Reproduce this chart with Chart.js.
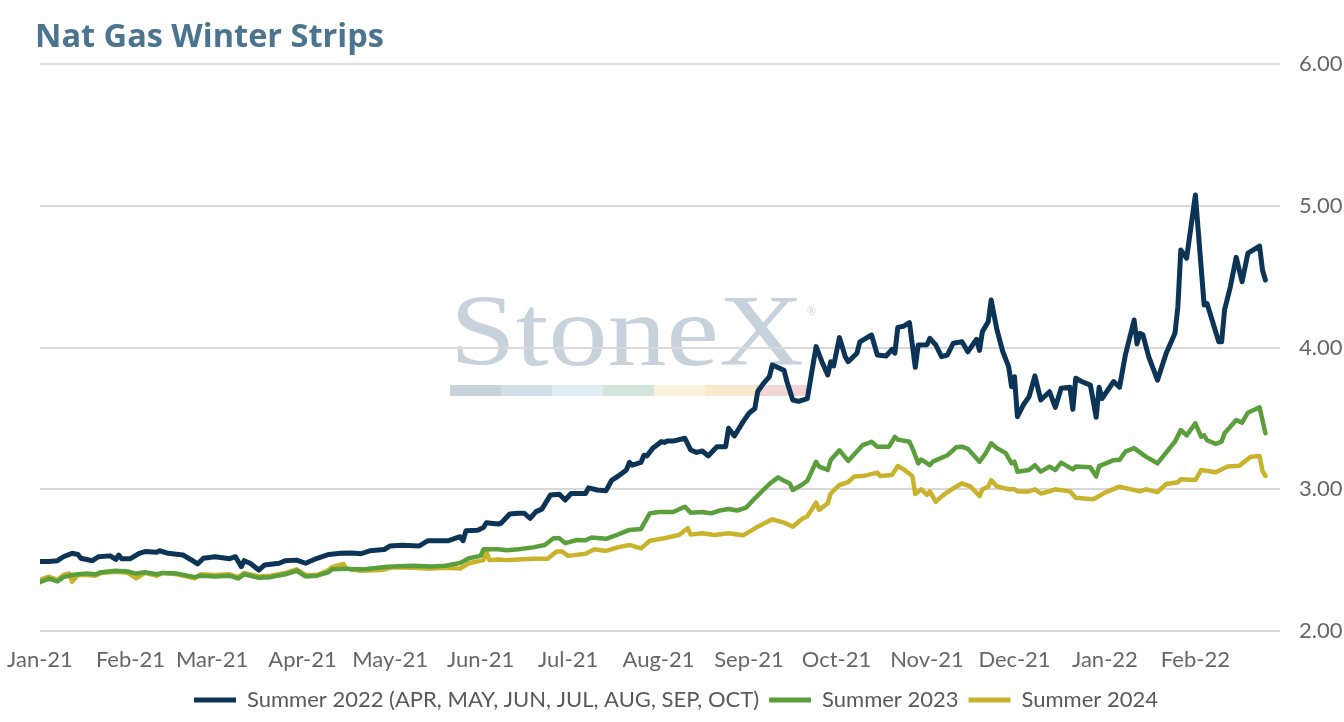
<!DOCTYPE html>
<html>
<head>
<meta charset="utf-8">
<script src="https://cdn.jsdelivr.net/npm/chart.js@4.4.1/dist/chart.umd.min.js"></script>
<style>
  html, body { margin: 0; padding: 0; background: #ffffff; }
  #wrap { width: 1344px; height: 722px; position: relative; }
</style>
</head>
<body>
<div id="wrap"><canvas id="c" width="1344" height="722"></canvas></div>
<script>
// ---- DATA (days since 2021-01-01, values in $/MMBtu) ----
const chartTitle = 'Nat Gas Winter Strips';
const seriesLabels = ['Summer 2022 (APR, MAY, JUN, JUL, AUG, SEP, OCT)', 'Summer 2023', 'Summer 2024'];
const monthTickDays = [0, 31, 59, 90, 120, 151, 181, 212, 243, 273, 304, 334, 365, 396];
const monthTickLabels = ['Jan-21','Feb-21','Mar-21','Apr-21','May-21','Jun-21','Jul-21','Aug-21','Sep-21','Oct-21','Nov-21','Dec-21','Jan-22','Feb-22'];
const yTickValues = [2, 3, 4, 5, 6];

const summer2022Days = [0,3,6,8,11,13,14,18,20,24,26,27,28,31,34,36,40,41,44,49,52,54,56,60,65,67,69,70,72,75,77,82,84,88,91,95,99,103,107,110,113,118,120,124,130,133,137,140,144,145,146,150,152,153,157,158,161,164,166,168,170,172,175,178,180,182,187,188,191,194,196,198,201,202,203,206,207,208,210,213,214,215,217,221,223,225,227,229,232,235,236,238,241,243,245,246,248,250,251,255,256,258,260,263,266,268,270,271,272,274,276,277,280,281,285,287,290,292,293,294,296,298,300,301,304,305,307,309,311,313,316,318,321,322,323,325,326,328,330,332,333,334,335,337,339,341,343,346,348,350,353,354,355,357,360,362,363,364,368,370,372,375,376,377,378,380,383,386,389,390,391,393,396,399,400,404,405,406,408,410,412,414,418,419,420];
const summer2022Values = [2.49,2.49,2.496,2.524,2.548,2.54,2.513,2.496,2.524,2.53,2.506,2.536,2.51,2.51,2.548,2.56,2.556,2.566,2.548,2.536,2.50,2.473,2.513,2.524,2.51,2.524,2.454,2.496,2.478,2.43,2.466,2.478,2.496,2.50,2.478,2.513,2.54,2.548,2.55,2.545,2.566,2.575,2.60,2.605,2.60,2.637,2.637,2.637,2.665,2.637,2.708,2.71,2.73,2.764,2.755,2.76,2.825,2.83,2.83,2.795,2.842,2.86,2.96,2.965,2.924,2.97,2.97,3.01,2.995,2.99,3.065,3.09,3.136,3.19,3.17,3.19,3.24,3.235,3.29,3.336,3.33,3.34,3.34,3.36,3.277,3.26,3.27,3.235,3.30,3.30,3.43,3.376,3.477,3.536,3.57,3.69,3.747,3.794,3.877,3.84,3.76,3.63,3.62,3.64,4.006,3.90,3.806,3.90,3.87,4.07,3.935,3.90,3.96,4.04,4.088,3.947,3.94,3.987,3.96,4.142,4.15,4.175,3.86,4.018,4.02,4.065,4.018,3.935,3.947,4.03,4.04,3.97,4.058,3.98,4.112,4.182,4.335,4.124,3.97,3.865,3.723,3.794,3.512,3.594,3.653,3.80,3.63,3.688,3.578,3.712,3.72,3.564,3.783,3.76,3.735,3.508,3.72,3.64,3.76,3.72,3.947,4.194,4.025,4.10,4.09,3.935,3.77,3.96,4.10,4.288,4.688,4.63,5.076,4.30,4.31,4.04,4.04,4.265,4.43,4.636,4.464,4.665,4.716,4.547,4.476];

const summer2023Days = [0,3,6,8,11,13,16,19,21,26,30,33,36,40,42,47,53,55,60,65,68,70,75,79,84,88,91,95,99,100,105,107,112,119,128,134,139,144,147,151,152,157,160,164,169,173,176,178,180,184,187,189,194,198,202,206,209,212,215,217,221,223,227,230,233,236,239,242,245,247,250,253,255,257,258,261,263,266,267,270,271,274,277,282,285,287,291,292,293,294,298,299,301,302,305,306,311,314,316,318,322,324,326,328,331,333,334,335,339,341,343,346,348,350,354,355,360,362,363,368,370,372,375,379,383,389,391,393,396,398,399,400,403,405,406,410,412,414,418,420];
const summer2023Values = [2.345,2.37,2.35,2.38,2.395,2.40,2.405,2.40,2.415,2.425,2.42,2.405,2.415,2.40,2.41,2.405,2.38,2.39,2.385,2.39,2.37,2.40,2.375,2.38,2.40,2.425,2.385,2.39,2.415,2.435,2.44,2.435,2.437,2.454,2.46,2.455,2.46,2.48,2.513,2.53,2.576,2.576,2.57,2.576,2.59,2.607,2.654,2.654,2.62,2.642,2.64,2.66,2.65,2.68,2.713,2.72,2.83,2.84,2.84,2.84,2.877,2.835,2.84,2.83,2.85,2.86,2.85,2.87,2.936,2.976,3.037,3.084,3.06,3.04,2.995,3.03,3.06,3.194,3.16,3.136,3.206,3.275,3.20,3.312,3.335,3.30,3.30,3.335,3.37,3.35,3.335,3.29,3.183,3.21,3.17,3.195,3.24,3.296,3.30,3.285,3.194,3.25,3.324,3.29,3.255,3.183,3.195,3.124,3.136,3.17,3.124,3.16,3.136,3.188,3.14,3.16,3.155,3.09,3.163,3.206,3.206,3.265,3.29,3.23,3.183,3.336,3.418,3.38,3.465,3.37,3.38,3.346,3.32,3.336,3.395,3.488,3.47,3.54,3.578,3.395];

const summer2024Days = [0,3,6,8,10,11,13,16,19,21,26,30,33,36,40,42,47,53,55,60,65,68,70,75,79,84,88,91,95,99,100,104,105,110,117,121,128,134,139,144,147,152,153,154,157,160,164,169,174,177,179,181,187,190,194,198,202,206,209,214,219,222,223,227,231,236,241,246,251,255,258,261,263,266,267,270,271,274,277,279,282,287,288,292,294,296,299,300,302,304,305,307,310,314,316,319,322,323,325,326,328,332,334,335,339,341,343,346,348,353,355,361,363,365,370,377,379,383,386,390,391,396,398,403,407,411,415,418,419,420];
const summer2024Values = [2.36,2.383,2.36,2.395,2.407,2.348,2.395,2.395,2.39,2.41,2.418,2.41,2.372,2.41,2.39,2.41,2.40,2.372,2.40,2.395,2.40,2.38,2.41,2.385,2.39,2.41,2.435,2.395,2.395,2.43,2.45,2.473,2.44,2.425,2.43,2.45,2.447,2.44,2.447,2.44,2.478,2.50,2.56,2.50,2.505,2.50,2.505,2.51,2.51,2.56,2.56,2.53,2.545,2.576,2.565,2.59,2.607,2.583,2.637,2.654,2.677,2.725,2.68,2.69,2.677,2.69,2.675,2.736,2.788,2.765,2.736,2.788,2.81,2.905,2.854,2.90,2.97,3.03,3.05,3.09,3.093,3.117,3.093,3.10,3.164,3.14,3.093,2.966,3.00,2.96,2.985,2.912,2.966,3.018,3.042,3.018,2.952,3.00,3.018,3.065,3.02,3.00,3.00,2.985,2.985,3.00,2.97,2.985,3.00,2.985,2.94,2.93,2.953,2.976,3.018,2.985,3.00,2.98,3.037,3.05,3.07,3.065,3.136,3.12,3.16,3.165,3.23,3.235,3.13,3.094];

const seriesColors = ['#0c3457', '#5b9e3c', '#c9b22c'];

// ---- helpers ----
function pairs(days, vals) { return days.map((d, i) => ({ x: d, y: vals[i] })); }

const FONT = 'Lato, "Open Sans", sans-serif';

const watermarkPlugin = {
  id: 'watermark',
  beforeDraw(chart) {
    const ctx = chart.ctx;
    ctx.save();
    ctx.font = '102px "Liberation Serif", "DejaVu Serif", serif';
    ctx.fillStyle = 'rgba(190, 202, 214, 0.85)';
    ctx.textBaseline = 'alphabetic';
    const txt = 'StoneX';
    const w = ctx.measureText(txt).width;
    const targetW = 354;
    ctx.translate(450, 365);
    ctx.scale(targetW / w, 1);
    ctx.fillText(txt, 0, 0);
    ctx.restore();
    ctx.save();
    ctx.font = '12px "Liberation Serif", serif';
    ctx.fillStyle = 'rgba(190, 202, 214, 0.85)';
    ctx.fillText('®', 807, 312);
    const barColors = ['#c9d2db', '#d4dee9', '#e1ecf5', '#d3e4da', '#f8f3da', '#fbe9cd', '#f0d4d6'];
    const segW = 51;
    barColors.forEach((c, i) => {
      ctx.fillStyle = c;
      ctx.fillRect(450 + i * segW, 385, segW, 11);
    });
    ctx.restore();
  }
};

const titlePlugin = {
  id: 'customTitle',
  afterDraw(chart) {
    const ctx = chart.ctx;
    ctx.save();
    ctx.font = 'bold 32.5px "Open Sans", Lato, sans-serif';
    ctx.fillStyle = '#4b7490';
    ctx.textBaseline = 'alphabetic';
    ctx.textAlign = 'left';
    ctx.fillText(chartTitle, 35, 47);
    ctx.restore();
  }
};

function build() {
  new Chart(document.getElementById('c'), {
    type: 'line',
    data: {
      datasets: [
        { label: seriesLabels[0], data: pairs(summer2022Days, summer2022Values), borderColor: seriesColors[0], backgroundColor: seriesColors[0], borderWidth: 5 },
        { label: seriesLabels[1], data: pairs(summer2023Days, summer2023Values), borderColor: seriesColors[1], backgroundColor: seriesColors[1], borderWidth: 4.5 },
        { label: seriesLabels[2], data: pairs(summer2024Days, summer2024Values), borderColor: seriesColors[2], backgroundColor: seriesColors[2], borderWidth: 4.5 }
      ]
    },
    options: {
      responsive: false,
      animation: false,
      devicePixelRatio: 1,
      elements: { point: { radius: 0, hoverRadius: 0 }, line: { tension: 0, borderJoinStyle: 'round', borderCapStyle: 'round' } },
      layout: { padding: { left: 8, right: 0, top: 64, bottom: 1 } },
      plugins: {
        title: { display: false },
        tooltip: { enabled: false },
        legend: {
          position: 'bottom',
          labels: {
            font: { family: FONT, size: 22 },
            color: '#595959',
            boxWidth: 42,
            boxHeight: 5,
            padding: 10,
            generateLabels(chart) {
              const items = Chart.defaults.plugins.legend.labels.generateLabels(chart);
              items.forEach(it => { it.lineWidth = 0; it.strokeStyle = 'rgba(0,0,0,0)'; });
              return items;
            }
          }
        }
      },
      scales: {
        x: {
          type: 'linear',
          min: 0,
          max: 425,
          grid: { display: false },
          border: { display: false },
          afterFit(scale) { scale.height = 48; scale.paddingLeft = 40; scale.paddingRight = 0; },
          afterBuildTicks(scale) { scale.ticks = monthTickDays.map(v => ({ value: v })); },
          ticks: {
            autoSkip: false,
            maxRotation: 0,
            padding: 8,
            font: { family: FONT, size: 22 },
            color: '#666666',
            callback(value) {
              const i = monthTickDays.indexOf(value);
              return i >= 0 ? monthTickLabels[i] : '';
            }
          }
        },
        y: {
          position: 'right',
          min: 2,
          max: 6,
          afterFit(scale) { scale.width = 64; },
          afterBuildTicks(scale) { scale.ticks = yTickValues.map(v => ({ value: v })); },
          grid: { color: '#d9d9d9', lineWidth: 2, drawTicks: false },
          border: { display: false },
          ticks: {
            padding: 19,
            font: { family: FONT, size: 22 },
            color: '#666666',
            callback(v) { return Number(v).toFixed(2); }
          }
        }
      }
    },
    plugins: [watermarkPlugin, titlePlugin]
  });
}

const fontLoads = [
  document.fonts.load('22px Lato'),
  document.fonts.load('bold 32px "Open Sans"'),
  document.fonts.load('102px "Liberation Serif"')
];
Promise.all(fontLoads).then(build, build);
</script>
</body>
</html>
